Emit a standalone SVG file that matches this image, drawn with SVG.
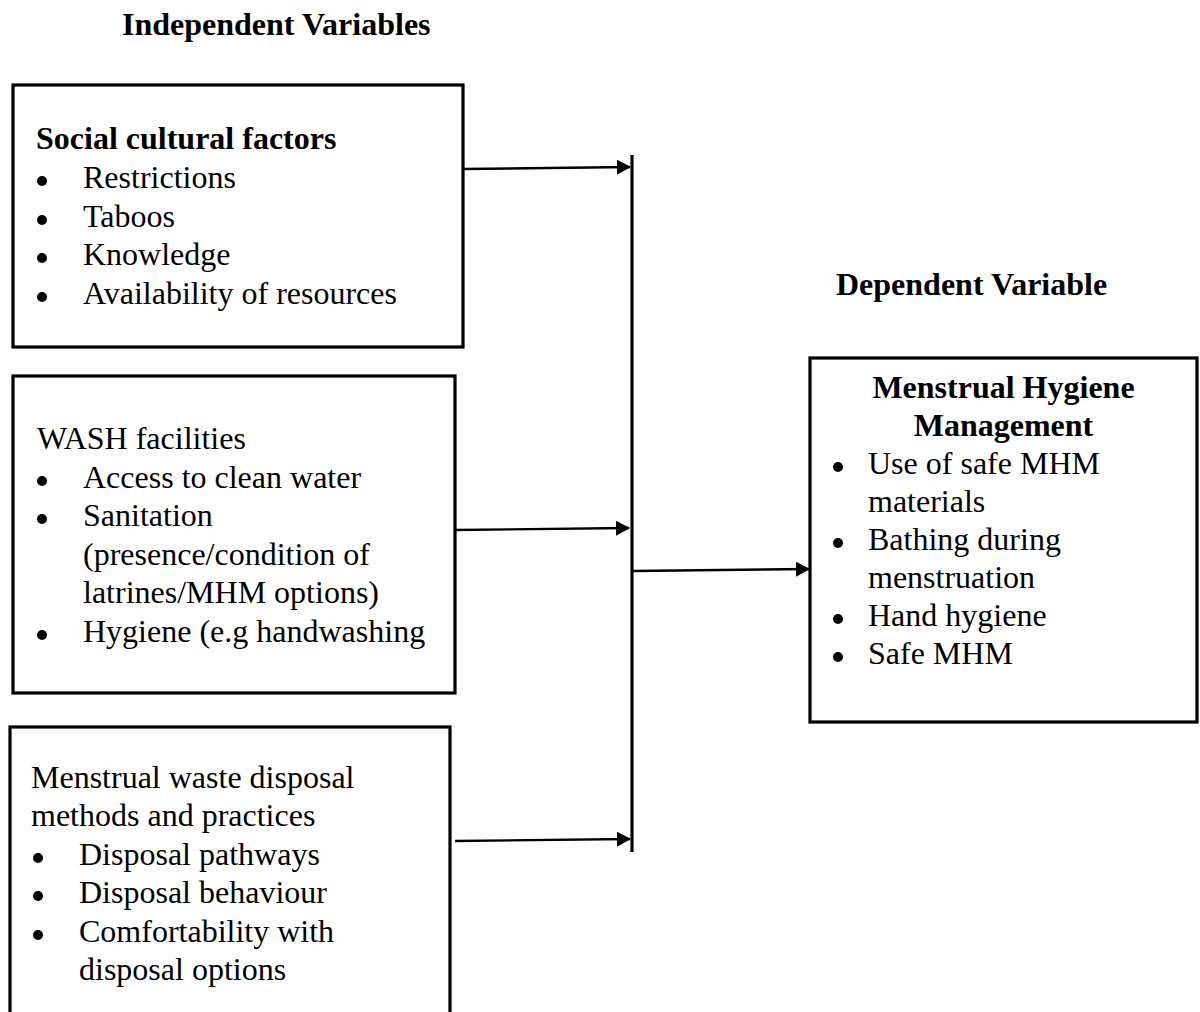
<svg xmlns="http://www.w3.org/2000/svg" width="1200" height="1012" viewBox="0 0 1200 1012">
<style>
text{font-family:"Liberation Serif","Times New Roman",serif;font-size:32px;fill:#000}
.b{font-weight:bold}
.box{fill:#fff;stroke:#000;stroke-width:3.2}
.dot{fill:#000}
.conn{stroke:#000;stroke-width:2.4;fill:none}
.bar{stroke:#000;stroke-width:3.2}
</style>
<defs>
<marker id="ah" markerUnits="userSpaceOnUse" markerWidth="14" markerHeight="16" refX="13" refY="7.5" orient="auto">
<path d="M0,0 L14,7.5 L0,15 Z" fill="#000"/>
</marker>
</defs>
<rect width="1200" height="1012" fill="#fff"/>
<text class="b" x="122" y="35">Independent Variables</text>
<text class="b" x="836" y="295">Dependent Variable</text>

<g id="social">
<rect class="box" x="13" y="85" width="450" height="262"/>
<text class="b" x="36" y="149">Social cultural factors</text>
<circle class="dot" cx="42" cy="181" r="5"/><text x="83" y="188">Restrictions</text>
<circle class="dot" cx="42" cy="220" r="5"/><text x="83" y="227">Taboos</text>
<circle class="dot" cx="42" cy="258" r="5"/><text x="83" y="265">Knowledge</text>
<circle class="dot" cx="42" cy="297" r="5"/><text x="83" y="304">Availability of resources</text>
</g>

<g id="wash">
<rect class="box" x="13" y="376" width="442" height="317"/>
<text x="37" y="449">WASH facilities</text>
<circle class="dot" cx="42" cy="481" r="5"/><text x="83" y="488">Access to clean water</text>
<circle class="dot" cx="42" cy="519" r="5"/><text x="83" y="526">Sanitation</text>
<text x="83" y="565">(presence/condition of</text>
<text x="83" y="603">latrines/MHM options)</text>
<circle class="dot" cx="42" cy="635" r="5"/><text x="83" y="642">Hygiene (e.g handwashing</text>
</g>

<g id="waste">
<rect class="box" x="10" y="727" width="440" height="300"/>
<text x="31" y="788">Menstrual waste disposal</text>
<text x="31" y="826">methods and practices</text>
<circle class="dot" cx="38" cy="858" r="5"/><text x="79" y="865">Disposal pathways</text>
<circle class="dot" cx="38" cy="896" r="5"/><text x="79" y="903">Disposal behaviour</text>
<circle class="dot" cx="38" cy="935" r="5"/><text x="79" y="942">Comfortability with</text>
<text x="79" y="980">disposal options</text>
</g>

<g id="mhm">
<rect class="box" x="810" y="358" width="387" height="364"/>
<text class="b" x="1003.5" y="398" text-anchor="middle">Menstrual Hygiene</text>
<text class="b" x="1003.5" y="436" text-anchor="middle">Management</text>
<circle class="dot" cx="838" cy="467" r="5"/><text x="868" y="474">Use of safe MHM</text>
<text x="868" y="512">materials</text>
<circle class="dot" cx="838" cy="543" r="5"/><text x="868" y="550">Bathing during</text>
<text x="868" y="588">menstruation</text>
<circle class="dot" cx="838" cy="619" r="5"/><text x="868" y="626">Hand hygiene</text>
<circle class="dot" cx="838" cy="657" r="5"/><text x="868" y="664">Safe MHM</text>
</g>

<g id="connectors">
<line class="bar" x1="632" y1="155" x2="632" y2="852"/>
<line class="conn" x1="463" y1="169" x2="630" y2="167" marker-end="url(#ah)"/>
<line class="conn" x1="455" y1="530" x2="629" y2="528" marker-end="url(#ah)"/>
<line class="conn" x1="455" y1="841" x2="630" y2="839" marker-end="url(#ah)"/>
<line class="conn" x1="633" y1="571" x2="809" y2="569" marker-end="url(#ah)"/>
</g>
</svg>
